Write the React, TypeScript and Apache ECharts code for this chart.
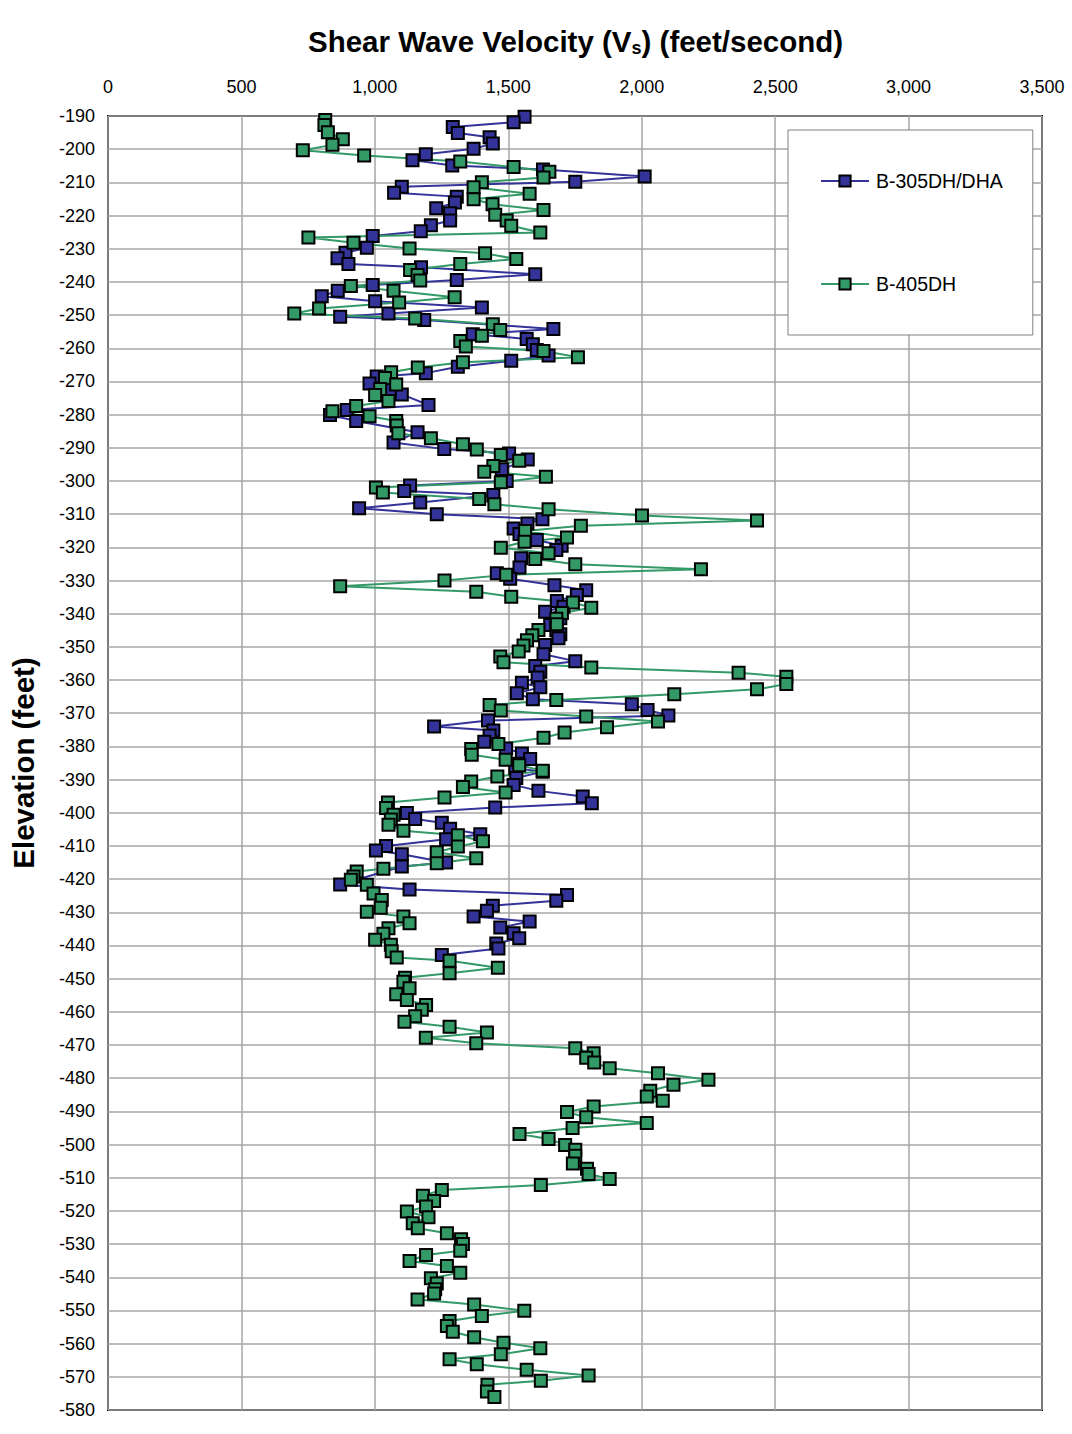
import React, { useEffect, useRef } from "react";
import * as echarts from "echarts";

// B-305DH/DHA : elevation (ft) and shear wave velocity (ft/s)
const elevB305 = [
  -190.2, -191.9, -193.3, -195.1, -196.4, -198.3, -199.9, -201.5, -203.3, -204.9,
  -206.1, -208.2, -209.8, -211.3, -213.1, -214.3, -216.1, -217.8, -219.3, -221.5,
  -222.9, -224.7, -226.2, -229.7, -231.2, -232.9, -234.6, -235.6, -237.7, -239.4,
  -240.9, -242.7, -244.3, -245.8, -247.7, -249.5, -250.5, -251.5, -254.2, -255.8,
  -257.2, -258.8, -260.5, -262.2, -263.8, -265.6, -267.5, -268.5, -270.6, -272.6,
  -273.9, -277.1, -278.6, -280.1, -281.9, -285.3, -288.4, -290.4, -291.7, -293.5,
  -296.5, -300.0, -301.4, -303.0, -304.2, -306.5, -308.2, -310.0, -311.5, -312.8,
  -314.3, -316.0, -317.8, -319.5, -320.8, -323.3, -326.1, -327.8, -329.5, -331.4,
  -332.9, -334.4, -336.2, -337.9, -339.4, -341.4, -343.4, -345.0, -346.2, -347.4,
  -349.4, -352.2, -354.3, -355.8, -357.5, -359.2, -360.8, -362.2, -364.0, -365.8,
  -367.3, -369.0, -370.7, -372.2, -374.0, -375.2, -376.7, -378.6, -380.6, -382.1,
  -383.8, -385.2, -386.6, -387.6, -389.5, -391.6, -393.4, -395.1, -397.1, -398.4,
  -400.1, -401.9, -403.0, -404.8, -406.5, -408.0, -410.0, -411.4, -412.5, -415.0,
  -416.2, -421.6, -423.1, -424.8, -426.5, -428.0, -429.5, -431.3, -432.8, -434.6,
  -436.3, -437.8, -439.4, -440.9, -442.9,
];
const vsB305 = [
  1561, 1520, 1292, 1311, 1430, 1442, 1370, 1191, 1141, 1290,
  1630, 2011, 1751, 1101, 1072, 1307, 1300, 1230, 1282, 1282,
  1210, 1172, 992, 970, 890, 860, 901, 1173, 1601, 1307,
  992, 861, 801, 1001, 1401, 1051, 870, 1185, 1669, 1367,
  1569, 1592, 1607, 1651, 1511, 1311, 1191, 1007, 980, 1057,
  1101, 1201, 895, 832, 930, 1160, 1070, 1260, 1503, 1573,
  1476, 1494, 1132, 1110, 1444, 1170, 941, 1232, 1628, 1572,
  1520, 1542, 1607, 1700, 1680, 1548, 1542, 1457, 1507, 1673,
  1792, 1757, 1682, 1707, 1638, 1695, 1657, 1680, 1695, 1688,
  1638, 1632, 1751, 1601, 1620, 1610, 1551, 1620, 1532, 1592,
  1963, 2022, 2100, 1424, 1222, 1444, 1430, 1410, 1492, 1551,
  1582, 1530, 1526, 1629, 1530, 1520, 1613, 1779, 1813, 1451,
  1120, 1151, 1251, 1282, 1395, 1267, 1042, 1004, 1101, 1267,
  1101, 870, 1130, 1720, 1680, 1442, 1420, 1370, 1580, 1470,
  1520, 1541, 1455, 1463, 1251,
];

// B-405DH : elevation (ft) and shear wave velocity (ft/s)
const elevB405 = [
  -189.7, -191.2, -192.7, -194.9, -197.0, -198.7, -200.3, -201.9, -203.7, -205.4,
  -206.8, -208.5, -210.0, -211.5, -213.4, -215.1, -216.6, -218.3, -219.8, -221.5,
  -223.1, -225.1, -226.6, -228.2, -229.9, -231.4, -233.1, -234.6, -236.4, -237.9,
  -239.6, -241.2, -242.7, -244.6, -246.2, -248.0, -249.5, -251.0, -252.8, -254.5,
  -256.2, -257.8, -259.5, -260.8, -262.7, -264.2, -265.8, -267.2, -269.0, -270.9,
  -272.3, -274.1, -275.9, -277.4, -279.0, -280.5, -281.9, -283.3, -285.6, -287.1,
  -288.9, -290.5, -292.2, -293.9, -295.5, -297.2, -298.7, -300.4, -302.0, -303.5,
  -305.4, -307.0, -308.5, -310.4, -311.9, -313.5, -315.1, -317.0, -318.3, -320.1,
  -321.8, -323.5, -325.1, -326.6, -328.3, -330.0, -331.7, -333.4, -334.9, -336.6,
  -338.2, -339.8, -341.5, -343.2, -344.9, -346.5, -348.0, -349.6, -351.4, -352.9,
  -354.6, -356.2, -357.8, -359.0, -361.2, -362.8, -364.3, -366.0, -367.5, -369.2,
  -371.0, -372.5, -374.2, -375.8, -377.4, -379.3, -380.8, -382.5, -384.0, -385.7,
  -387.3, -389.1, -390.6, -392.2, -393.9, -395.4, -396.9, -398.6, -400.6, -402.0,
  -403.6, -405.4, -406.8, -408.6, -410.2, -411.9, -413.7, -415.2, -416.9, -417.7,
  -419.2, -420.2, -421.7, -424.3, -426.3, -428.6, -429.8, -431.3, -433.3, -434.8,
  -436.5, -438.3, -439.8, -441.7, -443.6, -444.6, -446.7, -448.4, -449.7, -450.9,
  -452.9, -454.7, -456.4, -457.9, -459.4, -461.3, -463.0, -464.5, -466.2, -467.8,
  -469.5, -471.0, -472.5, -473.8, -475.3, -477.0, -478.5, -480.5, -482.0, -483.8,
  -485.5, -486.8, -488.5, -490.2, -491.8, -493.5, -495.0, -496.8, -498.3, -500.1,
  -501.6, -503.4, -505.7, -507.3, -508.9, -510.4, -512.2, -513.7, -515.4, -517.0,
  -518.7, -520.2, -521.9, -523.7, -525.2, -526.7, -528.5, -530.0, -532.0, -533.3,
  -535.1, -536.6, -538.6, -540.3, -541.9, -543.6, -544.9, -546.7, -548.2, -550.1,
  -551.7, -553.2, -554.7, -556.4, -558.1, -559.7, -561.4, -563.2, -564.7, -566.2,
  -567.9, -569.6, -571.2, -572.4, -574.4, -576.1,
];
const vsB405 = [
  820, 814, 811, 824, 880, 841, 730, 960, 1320, 1520,
  1654, 1632, 1401, 1370, 1580, 1370, 1441, 1632, 1451, 1494,
  1511, 1620, 751, 920, 1130, 1413, 1530, 1320, 1132, 1160,
  1170, 910, 1070, 1299, 1091, 791, 698, 1151, 1442, 1470,
  1401, 1320, 1341, 1632, 1761, 1330, 1161, 1061, 1038, 1080,
  1020, 1001, 1051, 930, 841, 980, 1080, 1082, 1088, 1210,
  1330, 1382, 1472, 1541, 1444, 1410, 1641, 1472, 1004, 1030,
  1391, 1448, 1651, 2001, 2432, 1772, 1563, 1720, 1561, 1472,
  1651, 1601, 1751, 2222, 1492, 1261, 870, 1380, 1511, 1742,
  1811, 1701, 1680, 1682, 1613, 1590, 1570, 1557, 1539, 1470,
  1482, 1811, 2363, 2542, 2542, 2432, 2122, 1680, 1430, 1472,
  1792, 2061, 1870, 1711, 1632, 1463, 1361, 1363, 1490, 1541,
  1629, 1459, 1361, 1330, 1490, 1261, 1049, 1042, 1070, 1060,
  1051, 1107, 1311, 1405, 1311, 1232, 1380, 1232, 1032, 932,
  920, 910, 970, 995, 1026, 1022, 970, 1107, 1130, 1051,
  1032, 1001, 1060, 1063, 1082, 1280, 1461, 1280, 1113, 1107,
  1130, 1080, 1120, 1192, 1176, 1151, 1111, 1280, 1420, 1191,
  1380, 1751, 1820, 1792, 1822, 1880, 2061, 2250, 2119, 2032,
  2019, 2079, 1820, 1720, 1792, 2019, 1741, 1542, 1651, 1713,
  1751, 1751, 1742, 1795, 1801, 1880, 1622, 1251, 1180, 1222,
  1192, 1120, 1201, 1142, 1161, 1270, 1323, 1330, 1320, 1192,
  1130, 1270, 1320, 1210, 1232, 1226, 1222, 1160, 1372, 1560,
  1401, 1280, 1270, 1292, 1372, 1482, 1620, 1472, 1280, 1382,
  1569, 1801, 1622, 1422, 1420, 1448,
];

const seriesNames = ["B-305DH/DHA", "B-405DH"];
const FONT = "'Liberation Sans', Arial, Helvetica, sans-serif";

export default function App() {
  const ref = useRef<HTMLDivElement>(null);
  useEffect(() => {
    document.body.style.margin = "0";
    const chart = echarts.init(ref.current!, null, { renderer: "svg" });
    const d305 = elevB305.map((e, i) => [vsB305[i], e]);
    const d405 = elevB405.map((e, i) => [vsB405[i], e]);
    const mkSeries = (name: string, data: number[][], color: string) => ({
      name,
      type: "line",
      data,
      symbol: "rect",
      symbolSize: 12,
      lineStyle: { color, width: 2 },
      itemStyle: { color, borderColor: "#000", borderWidth: 2 },
      emphasis: { disabled: true },
    });
    chart.setOption({
      animation: false,
      backgroundColor: "#fff",
      textStyle: { fontFamily: FONT },
      title: {
        left: 303,
        top: 19,
        text: "{a|Shear Wave Velocity (V}{b|s}{a|) (feet/second)}",
        textStyle: {
          rich: {
            a: { fontFamily: FONT, fontSize: 29.5, fontWeight: "bold", color: "#000", lineHeight: 34 },
            b: { fontFamily: FONT, fontSize: 18, fontWeight: "bold", color: "#000", lineHeight: 34, padding: [13, 0, 0, 0] },
          },
        },
      },
      legend: {
        orient: "vertical",
        left: 788,
        top: 130,
        data: seriesNames,
        itemWidth: 48,
        itemHeight: 14,
        itemGap: 83,
        padding: [41, 30, 41, 32],
        backgroundColor: "#fff",
        borderColor: "#808080",
        borderWidth: 1,
        textStyle: { fontFamily: FONT, fontSize: 19.5, color: "#000", padding: [0, 0, 0, 2] },
      },
      grid: {
        left: 108,
        top: 116,
        width: 934,
        height: 1294,
        outerBoundsMode: "none",
        containLabel: false,
        show: true,
        borderColor: "#000",
        borderWidth: 2,
        backgroundColor: "#fff",
      },
      xAxis: {
        type: "value",
        position: "top",
        min: 0,
        max: 3500,
        interval: 500,
        axisLine: { show: false },
        axisTick: { show: false },
        axisLabel: {
          fontFamily: FONT,
          fontSize: 18,
          color: "#000",
          margin: 20,
          showMinLabel: true,
          showMaxLabel: true,
          formatter: (v: number) => v.toLocaleString("en-US"),
        },
        splitLine: { lineStyle: { color: "#a6a6a6", width: 1.5 } },
      },
      yAxis: {
        type: "value",
        min: -580,
        max: -190,
        interval: 10,
        name: "Elevation (feet)",
        nameLocation: "middle",
        nameGap: 70,
        nameTextStyle: { fontFamily: FONT, fontSize: 29.5, fontWeight: "bold", color: "#000" },
        axisLine: { show: false },
        axisTick: { show: false },
        axisLabel: { fontFamily: FONT, fontSize: 18, color: "#000", margin: 13 },
        splitLine: { lineStyle: { color: "#a6a6a6", width: 1.5 } },
      },
      series: [
        mkSeries(seriesNames[0], d305, "#333399"),
        mkSeries(seriesNames[1], d405, "#339966"),
      ],
    });
    return () => chart.dispose();
  }, []);
  return <div ref={ref} style={{ width: 1072, height: 1434 }} />;
}
